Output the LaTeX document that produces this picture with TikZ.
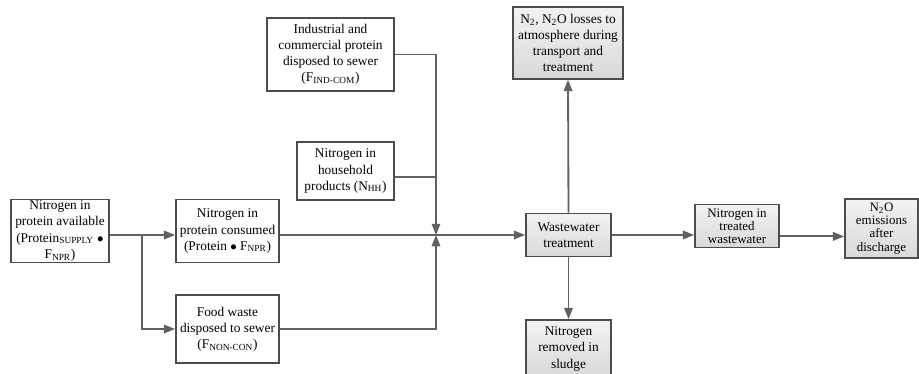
\documentclass[tikz,border=0pt]{standalone}
\usepackage{fontspec}
\setmainfont{Liberation Serif}
\usetikzlibrary{arrows.meta}

\tikzset{
    box/.style 2 args = {draw=black!70, line width=1.1pt, inner sep=0pt,
        align=center, minimum width=#1cm, minimum height=#2cm,
        font=\rmfamily\fontsize{9.5}{11.5}\selectfont},
    grey box/.style 2 args = {box={#1}{#2}, top color=gray!10, bottom color=gray!30},
    tight/.style = {font=\rmfamily\fontsize{9.2}{9.4}\selectfont},
    flow/.style = {draw=black!62, line width=1.3pt},
    arr/.style = {flow, -{Triangle[length=8pt,width=6pt]}}
}

\begin{document}
\begin{tikzpicture}[x=0.025cm, y=-0.025cm]
    \useasboundingbox (0,0) rectangle (919,374);

    % sources
    \node[box={2.45}{1.575}] (avail) at (60,231)
        {Nitrogen in\\protein available\\(Protein\textsubscript{SUPPLY} $\bullet$\\F\textsubscript{NPR})};
    \node[box={2.575}{1.575}] (cons) at (227.5,231)
        {Nitrogen in\\protein consumed\\(Protein $\bullet$ F\textsubscript{NPR})};
    \node[box={2.575}{1.7}] (food) at (227.5,329)
        {Food waste\\disposed to sewer\\(F\textsubscript{NON-CON})};
    \node[box={3.175}{1.825}] (ind) at (330.5,54.5)
        {Industrial and\\commercial protein\\disposed to sewer\\(F\textsubscript{IND-COM})};
    \node[box={2.425}{1.45}] (hh) at (345.5,171)
        {Nitrogen in\\household\\products (N\textsubscript{HH})};

    % treatment and fate
    \node[grey box={2.125}{1.075}] (ww) at (568.5,235)
        {Wastewater\\treatment};
    \node[grey box={2.75}{1.8}] (loss) at (568,43)
        {N\textsubscript{2}, N\textsubscript{2}O losses to\\atmosphere during\\transport and\\treatment};
    \node[grey box={2.125}{1.45}] (sludge) at (568.5,349)
        {Nitrogen\\removed in\\sludge};
    \node[grey box={2.1}{1.075}, tight] (treated) at (737,226)
        {Nitrogen in\\treated\\wastewater};
    \node[grey box={1.825}{1.475}, tight] (emis) at (881.5,228.5)
        {N\textsubscript{2}O\\emissions\\after\\discharge};

    \coordinate (split) at (142,235);
    \coordinate (jn) at (436,235);

    \draw[flow] (avail.east |- split) -- (split);
    \draw[arr] (split) -- (cons.west |- split);
    \draw[arr] (split) |- (food.west);

    \draw[flow] (cons.east |- jn) -- (jn);
    \draw[arr] (ind.east) -| (jn);
    \draw[flow] ([yshift=-4pt]hh.east) -- ([yshift=-4pt]hh.east -| jn);
    \draw[arr] (food.east) -| (jn);
    \draw[arr] (jn) -- (ww.west |- jn);

    \draw[arr] (ww.north) -- (loss.south);
    \draw[arr] (ww.south) -- (sludge.north);
    \draw[arr] (ww.east |- jn) -- (treated.west |- jn);
    \draw[arr] ([yshift=-1pt]treated.east |- jn) -- ([yshift=-1pt]emis.west |- jn);

\end{tikzpicture}
\end{document}
